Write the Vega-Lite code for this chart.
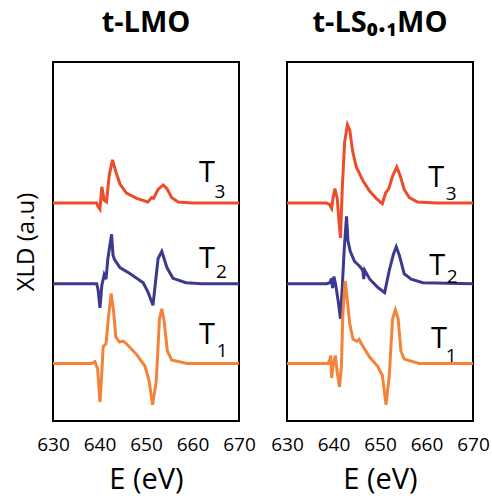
{
  "$schema": "https://vega.github.io/schema/vega-lite/v6.json",
  "padding": {"left": 13, "top": 8, "right": 2, "bottom": 0},
  "datasets": {
    "lines": [
      {"p":"L","s":"T3","E":630,"I":243},{"p":"L","s":"T3","E":639.4,"I":243},{"p":"L","s":"T3","E":639.7,"I":239},{"p":"L","s":"T3","E":640.1,"I":236},{"p":"L","s":"T3","E":640.5,"I":261},{"p":"L","s":"T3","E":641.0,"I":246},{"p":"L","s":"T3","E":641.5,"I":244},{"p":"L","s":"T3","E":642.1,"I":274},{"p":"L","s":"T3","E":642.8,"I":291},{"p":"L","s":"T3","E":643.5,"I":278},{"p":"L","s":"T3","E":644.4,"I":264},{"p":"L","s":"T3","E":645.8,"I":254},{"p":"L","s":"T3","E":648.0,"I":248},{"p":"L","s":"T3","E":650.4,"I":244},{"p":"L","s":"T3","E":651.2,"I":249},{"p":"L","s":"T3","E":651.6,"I":248},{"p":"L","s":"T3","E":652.6,"I":258},{"p":"L","s":"T3","E":653.7,"I":263},{"p":"L","s":"T3","E":654.5,"I":259},{"p":"L","s":"T3","E":655.5,"I":249},{"p":"L","s":"T3","E":656.9,"I":244},{"p":"L","s":"T3","E":660,"I":243},{"p":"L","s":"T3","E":670,"I":243},
      {"p":"L","s":"T2","E":630,"I":153},{"p":"L","s":"T2","E":639.4,"I":153},{"p":"L","s":"T2","E":639.7,"I":146},{"p":"L","s":"T2","E":640.1,"I":126},{"p":"L","s":"T2","E":640.5,"I":151},{"p":"L","s":"T2","E":641.0,"I":163},{"p":"L","s":"T2","E":641.4,"I":158},{"p":"L","s":"T2","E":641.8,"I":181},{"p":"L","s":"T2","E":642.6,"I":208},{"p":"L","s":"T2","E":642.9,"I":185},{"p":"L","s":"T2","E":643.2,"I":180},{"p":"L","s":"T2","E":644.4,"I":171},{"p":"L","s":"T2","E":646.6,"I":164},{"p":"L","s":"T2","E":649.4,"I":154},{"p":"L","s":"T2","E":650.4,"I":144},{"p":"L","s":"T2","E":651.5,"I":129},{"p":"L","s":"T2","E":652.6,"I":181},{"p":"L","s":"T2","E":653.4,"I":189},{"p":"L","s":"T2","E":654.5,"I":171},{"p":"L","s":"T2","E":655.8,"I":159},{"p":"L","s":"T2","E":658.6,"I":154},{"p":"L","s":"T2","E":662,"I":153},{"p":"L","s":"T2","E":670,"I":153},
      {"p":"L","s":"T1","E":630,"I":64},{"p":"L","s":"T1","E":638.3,"I":64},{"p":"L","s":"T1","E":639.0,"I":66},{"p":"L","s":"T1","E":639.6,"I":58},{"p":"L","s":"T1","E":640.1,"I":21},{"p":"L","s":"T1","E":640.5,"I":54},{"p":"L","s":"T1","E":640.8,"I":83},{"p":"L","s":"T1","E":641.4,"I":86},{"p":"L","s":"T1","E":641.9,"I":114},{"p":"L","s":"T1","E":642.5,"I":142},{"p":"L","s":"T1","E":643.0,"I":124},{"p":"L","s":"T1","E":643.5,"I":94},{"p":"L","s":"T1","E":644.3,"I":88},{"p":"L","s":"T1","E":645.1,"I":89},{"p":"L","s":"T1","E":645.8,"I":86},{"p":"L","s":"T1","E":648.0,"I":74},{"p":"L","s":"T1","E":649.8,"I":61},{"p":"L","s":"T1","E":650.7,"I":44},{"p":"L","s":"T1","E":651.4,"I":18},{"p":"L","s":"T1","E":652.2,"I":44},{"p":"L","s":"T1","E":652.9,"I":114},{"p":"L","s":"T1","E":653.4,"I":125},{"p":"L","s":"T1","E":653.9,"I":111},{"p":"L","s":"T1","E":654.6,"I":78},{"p":"L","s":"T1","E":655.5,"I":68},{"p":"L","s":"T1","E":658.8,"I":64},{"p":"L","s":"T1","E":670,"I":64},
      {"p":"R","s":"T3","E":630,"I":243},{"p":"R","s":"T3","E":638.5,"I":243},{"p":"R","s":"T3","E":639.2,"I":241},{"p":"R","s":"T3","E":639.6,"I":237},{"p":"R","s":"T3","E":639.9,"I":248},{"p":"R","s":"T3","E":640.3,"I":259},{"p":"R","s":"T3","E":640.8,"I":248},{"p":"R","s":"T3","E":641.2,"I":221},{"p":"R","s":"T3","E":641.5,"I":204},{"p":"R","s":"T3","E":641.9,"I":261},{"p":"R","s":"T3","E":642.4,"I":311},{"p":"R","s":"T3","E":643.0,"I":330},{"p":"R","s":"T3","E":643.5,"I":324},{"p":"R","s":"T3","E":644.1,"I":301},{"p":"R","s":"T3","E":644.9,"I":283},{"p":"R","s":"T3","E":646.3,"I":268},{"p":"R","s":"T3","E":647.8,"I":256},{"p":"R","s":"T3","E":649.2,"I":248},{"p":"R","s":"T3","E":650.5,"I":242},{"p":"R","s":"T3","E":651.2,"I":254},{"p":"R","s":"T3","E":651.9,"I":259},{"p":"R","s":"T3","E":652.7,"I":273},{"p":"R","s":"T3","E":653.6,"I":283},{"p":"R","s":"T3","E":654.3,"I":274},{"p":"R","s":"T3","E":655.2,"I":258},{"p":"R","s":"T3","E":656.3,"I":249},{"p":"R","s":"T3","E":658.1,"I":244},{"p":"R","s":"T3","E":662,"I":243},{"p":"R","s":"T3","E":670,"I":243},
      {"p":"R","s":"T2","E":630,"I":153},{"p":"R","s":"T2","E":638.5,"I":153},{"p":"R","s":"T2","E":639.2,"I":154},{"p":"R","s":"T2","E":639.6,"I":159},{"p":"R","s":"T2","E":639.8,"I":148},{"p":"R","s":"T2","E":640.1,"I":161},{"p":"R","s":"T2","E":640.5,"I":151},{"p":"R","s":"T2","E":641.0,"I":134},{"p":"R","s":"T2","E":641.5,"I":114},{"p":"R","s":"T2","E":641.9,"I":151},{"p":"R","s":"T2","E":642.3,"I":191},{"p":"R","s":"T2","E":642.8,"I":228},{"p":"R","s":"T2","E":643.1,"I":201},{"p":"R","s":"T2","E":643.6,"I":189},{"p":"R","s":"T2","E":644.5,"I":178},{"p":"R","s":"T2","E":645.5,"I":173},{"p":"R","s":"T2","E":646.3,"I":168},{"p":"R","s":"T2","E":646.5,"I":158},{"p":"R","s":"T2","E":646.7,"I":168},{"p":"R","s":"T2","E":647.8,"I":158},{"p":"R","s":"T2","E":649.5,"I":149},{"p":"R","s":"T2","E":651.0,"I":143},{"p":"R","s":"T2","E":652.0,"I":168},{"p":"R","s":"T2","E":652.9,"I":186},{"p":"R","s":"T2","E":653.5,"I":194},{"p":"R","s":"T2","E":654.2,"I":184},{"p":"R","s":"T2","E":655.2,"I":164},{"p":"R","s":"T2","E":656.7,"I":158},{"p":"R","s":"T2","E":659.2,"I":154},{"p":"R","s":"T2","E":670,"I":153},
      {"p":"R","s":"T1","E":630,"I":64},{"p":"R","s":"T1","E":638.8,"I":64},{"p":"R","s":"T1","E":639.2,"I":68},{"p":"R","s":"T1","E":639.4,"I":73},{"p":"R","s":"T1","E":639.6,"I":48},{"p":"R","s":"T1","E":639.9,"I":61},{"p":"R","s":"T1","E":640.4,"I":73},{"p":"R","s":"T1","E":640.8,"I":54},{"p":"R","s":"T1","E":641.3,"I":38},{"p":"R","s":"T1","E":641.7,"I":61},{"p":"R","s":"T1","E":642.0,"I":118},{"p":"R","s":"T1","E":642.5,"I":156},{"p":"R","s":"T1","E":642.9,"I":138},{"p":"R","s":"T1","E":643.5,"I":108},{"p":"R","s":"T1","E":644.2,"I":91},{"p":"R","s":"T1","E":645.0,"I":89},{"p":"R","s":"T1","E":645.5,"I":91},{"p":"R","s":"T1","E":646.0,"I":86},{"p":"R","s":"T1","E":647.8,"I":71},{"p":"R","s":"T1","E":649.5,"I":61},{"p":"R","s":"T1","E":650.5,"I":51},{"p":"R","s":"T1","E":651.3,"I":18},{"p":"R","s":"T1","E":652.0,"I":51},{"p":"R","s":"T1","E":652.7,"I":114},{"p":"R","s":"T1","E":653.3,"I":124},{"p":"R","s":"T1","E":653.9,"I":114},{"p":"R","s":"T1","E":654.5,"I":78},{"p":"R","s":"T1","E":655.2,"I":69},{"p":"R","s":"T1","E":658.4,"I":64},{"p":"R","s":"T1","E":670,"I":64}
    ],
    "labels": [
      {"p":"L","k":"main","t":"T","E":663.1,"I":266},{"p":"L","k":"main","t":"T","E":663.1,"I":171},{"p":"L","k":"main","t":"T","E":663.1,"I":86},
      {"p":"L","k":"sub","t":"3","E":665.9,"I":249},{"p":"L","k":"sub","t":"2","E":666.2,"I":159},{"p":"L","k":"sub","t":"1","E":666.4,"I":71},
      {"p":"R","k":"main","t":"T","E":662.1,"I":261},{"p":"R","k":"main","t":"T","E":662.3,"I":163},{"p":"R","k":"main","t":"T","E":662.7,"I":81},
      {"p":"R","k":"sub","t":"3","E":665.3,"I":246},{"p":"R","k":"sub","t":"2","E":665.5,"I":154},{"p":"R","k":"sub","t":"1","E":665.3,"I":66}
    ]
  },
  "spacing": 48,
  "bounds": "flush",
  "hconcat": [
    {
      "width": 186, "height": 359,
      "title": {"text": "t-LMO"},
      "layer": [
        {
          "data": {"name": "lines"},
          "transform": [{"filter": "datum.p === 'L'"}],
          "mark": {"type": "line", "strokeWidth": 3},
          "encoding": {
            "x": {"field": "E", "type": "quantitative", "scale": {"domain": [630, 670]},
              "axis": {"orient": "bottom", "ticks": false, "values": [630,640,650,660,670], "labelPadding": 14, "title": "E (eV)", "titlePadding": 11, "titleFontSize": 29}},
            "y": {"field": "I", "type": "quantitative", "scale": {"domain": [0, 359]},
              "axis": {"title": "XLD (a.u)", "labels": false, "ticks": false, "domain": false, "grid": false, "titleFontSize": 24, "titlePadding": 15}},
            "color": {"field": "s", "type": "nominal", "scale": {"domain": ["T3","T2","T1"], "range": ["#ee4b2b","#3c3a8e","#f5823a"]}, "legend": null}
          }
        },
        {
          "data": {"name": "labels"},
          "transform": [{"filter": "datum.p === 'L' && datum.k === 'main'"}],
          "mark": {"type": "text", "fontSize": 29, "baseline": "alphabetic", "align": "center", "color": "black"},
          "encoding": {
            "x": {"field": "E", "type": "quantitative", "scale": {"domain": [630, 670]}, "axis": null},
            "y": {"field": "I", "type": "quantitative",
              "axis": {"title": "XLD (a.u)", "labels": false, "ticks": false, "domain": false, "grid": false, "titleFontSize": 24, "titlePadding": 15}},
            "text": {"field": "t"}
          }
        },
        {
          "data": {"name": "labels"},
          "transform": [{"filter": "datum.p === 'L' && datum.k === 'sub'"}],
          "mark": {"type": "text", "fontSize": 19, "baseline": "alphabetic", "align": "center", "color": "black"},
          "encoding": {
            "x": {"field": "E", "type": "quantitative", "scale": {"domain": [630, 670]}, "axis": null},
            "y": {"field": "I", "type": "quantitative",
              "axis": {"title": "XLD (a.u)", "labels": false, "ticks": false, "domain": false, "grid": false, "titleFontSize": 24, "titlePadding": 15}},
            "text": {"field": "t"}
          }
        }
      ],
      "resolve": {"axis": {"x": "independent"}}
    },
    {
      "width": 186, "height": 359,
      "title": {"text": "t-LS₀.₁MO"},
      "layer": [
        {
          "data": {"name": "lines"},
          "transform": [{"filter": "datum.p === 'R'"}],
          "mark": {"type": "line", "strokeWidth": 3},
          "encoding": {
            "x": {"field": "E", "type": "quantitative", "scale": {"domain": [630, 670]},
              "axis": {"orient": "bottom", "ticks": false, "values": [630,640,650,660,670], "labelPadding": 14, "title": "E (eV)", "titlePadding": 11, "titleFontSize": 29}},
            "y": {"field": "I", "type": "quantitative", "scale": {"domain": [0, 359]}, "axis": null},
            "color": {"field": "s", "type": "nominal", "scale": {"domain": ["T3","T2","T1"], "range": ["#ee4b2b","#3c3a8e","#f5823a"]}, "legend": null}
          }
        },
        {
          "data": {"name": "labels"},
          "transform": [{"filter": "datum.p === 'R' && datum.k === 'main'"}],
          "mark": {"type": "text", "fontSize": 29, "baseline": "alphabetic", "align": "center", "color": "black"},
          "encoding": {
            "x": {"field": "E", "type": "quantitative", "scale": {"domain": [630, 670]}, "axis": null},
            "y": {"field": "I", "type": "quantitative", "axis": null},
            "text": {"field": "t"}
          }
        },
        {
          "data": {"name": "labels"},
          "transform": [{"filter": "datum.p === 'R' && datum.k === 'sub'"}],
          "mark": {"type": "text", "fontSize": 19, "baseline": "alphabetic", "align": "center", "color": "black"},
          "encoding": {
            "x": {"field": "E", "type": "quantitative", "scale": {"domain": [630, 670]}, "axis": null},
            "y": {"field": "I", "type": "quantitative", "axis": null},
            "text": {"field": "t"}
          }
        }
      ],
      "resolve": {"axis": {"x": "independent"}}
    }
  ],
  "config": {
    "font": "Open Sans",
    "view": {"stroke": "black", "strokeWidth": 2},
    "title": {"fontSize": 29, "fontWeight": "bold", "color": "black", "offset": 24},
    "axis": {"domain": false, "grid": false, "labelFontSize": 19, "labelColor": "black", "labelFlush": false, "labelOverlap": false, "titleFontSize": 30, "titleFontWeight": "normal", "titleColor": "black"}
  }
}
